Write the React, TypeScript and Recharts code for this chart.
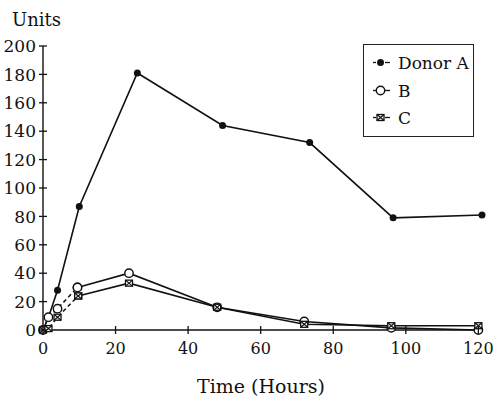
import React from 'react';
import { LineChart, Line, XAxis, YAxis, Legend } from 'recharts';

const seriesNames = ['Donor A', 'B', 'C'];
const timesA = [0, 1.5, 4, 10, 26, 49.5, 73.5, 96.5, 121];
const valuesA = [0, 9, 28, 87, 181, 144, 132, 79, 81];
const timesB = [0, 1.5, 4, 9.5, 23.7, 48, 72, 96, 120];
const valuesB = [0, 9, 15, 30, 40, 16, 6, 1.5, 0];
const timesC = [0, 1.5, 4, 9.7, 23.7, 48, 72, 96, 120];
const valuesC = [0, 1, 9, 24, 33, 16, 4, 3, 3];
const xTicks = [0, 20, 40, 60, 80, 100, 120];
const yTicks = [0, 20, 40, 60, 80, 100, 120, 140, 160, 180, 200];

const FONT = '"DejaVu Serif", "Liberation Serif", serif';
const INK = '#111';

const toPts = (xs: number[], ys: number[]) => xs.map((x, i) => ({ x, y: ys[i] }));
const dataA = toPts(timesA, valuesA);
const dataB = toPts(timesB, valuesB);
const dataC = toPts(timesC, valuesC);
const EARLY = 4; // points up to ~10 h drawn dashed for B and C

const MarkA = ({ cx, cy }: any) => <circle cx={cx} cy={cy} r={3.5} fill={INK} />;
const MarkB = ({ cx, cy }: any) => (
  <circle cx={cx} cy={cy} r={4.2} fill="#fff" stroke={INK} strokeWidth={1.4} />
);
const MarkC = ({ cx, cy }: any) => (
  <g>
    <rect x={cx - 3.5} y={cy - 3} width={7} height={6} fill="#fff" stroke={INK} strokeWidth={1.3} />
    <path d={`M${cx - 3.5},${cy - 3}L${cx + 3.5},${cy + 3}M${cx + 3.5},${cy - 3}L${cx - 3.5},${cy + 3}`} stroke={INK} strokeWidth={1.2} />
  </g>
);

const dotA = (p: any) => <MarkA key={`a${p.index}`} cx={p.cx} cy={p.cy} />;
const dotB = (p: any) => <MarkB key={`b${p.index}`} cx={p.cx} cy={p.cy} />;
const dotC = (p: any) => <MarkC key={`c${p.index}`} cx={p.cx} cy={p.cy} />;

const YTick = (props: any) => {
  const { x, y, payload } = props;
  const ax = x + 7;
  return (
    <g>
      <line x1={ax - 4} x2={ax + 4} y1={y} y2={y} stroke={INK} strokeWidth={1.3} />
      <text x={x} y={y} dy="0.36em" textAnchor="end" fontFamily={FONT} fontSize={17} fill={INK}>
        {payload.value}
      </text>
    </g>
  );
};

const XTick = (props: any) => {
  const { x, y, payload } = props;
  const ay = y - 12;
  return (
    <g>
      <line x1={x} x2={x} y1={ay - 4} y2={ay + 4} stroke={INK} strokeWidth={1.3} />
      <text x={x} y={y} dy="0.76em" textAnchor="middle" fontFamily={FONT} fontSize={16} fill={INK}>
        {payload.value}
      </text>
    </g>
  );
};

const LegendBox = () => {
  const rows = [19, 47, 74];
  const marks = [MarkA, MarkB, MarkC];
  return (
    <div style={{ width: 111, height: 93, border: '1.5px solid #222', boxSizing: 'border-box', background: '#fff' }}>
      <svg width={108} height={90} style={{ display: 'block' }}>
        {seriesNames.map((name, i) => {
          const M = marks[i];
          const y = rows[i] - 1.5;
          return (
            <g key={name}>
              <line x1={9} x2={12} y1={y} y2={y} stroke={INK} strokeWidth={1.3} />
              <line x1={21} x2={26} y1={y} y2={y} stroke={INK} strokeWidth={1.3} />
              <M cx={16.5} cy={y} />
              <text x={34} y={y} dy="0.36em" fontFamily={FONT} fontSize={17} fill={INK}>
                {name}
              </text>
            </g>
          );
        })}
      </svg>
    </div>
  );
};

export default function App() {
  return (
    <div style={{ position: 'absolute', left: 0, top: 0, width: 493, height: 400, background: '#fff' }}>
      <LineChart width={493} height={400} margin={{ top: 46, right: 11, left: 0, bottom: 0 }}>
        <XAxis
          type="number"
          dataKey="x"
          domain={[0, 121]}
          ticks={xTicks}
          allowDecimals={false}
          height={70}
          tickSize={0}
          tickMargin={12}
          tickLine={false}
          axisLine={{ stroke: INK, strokeWidth: 1.4 }}
          tick={<XTick />}
        />
        <YAxis
          type="number"
          domain={[0, 200]}
          ticks={yTicks}
          width={43}
          tickSize={0}
          tickMargin={7}
          tickLine={false}
          axisLine={{ stroke: INK, strokeWidth: 1.4 }}
          tick={<YTick />}
        />
        <Legend
          verticalAlign="middle"
          align="center"
          layout="horizontal"
          wrapperStyle={{ position: 'absolute', left: 363, top: 44, width: 111, height: 93 }}
          content={() => <LegendBox />}
        />
        <Line data={dataA} dataKey="y" name={seriesNames[0]} stroke={INK} strokeWidth={1.6} dot={dotA} isAnimationActive={false} />
        <Line data={dataB.slice(0, EARLY)} dataKey="y" name="B-early" stroke={INK} strokeWidth={1.5} strokeDasharray="4 3" dot={dotB} isAnimationActive={false} legendType="none" />
        <Line data={dataB.slice(EARLY - 1)} dataKey="y" name={seriesNames[1]} stroke={INK} strokeWidth={1.6} dot={dotB} isAnimationActive={false} />
        <Line data={dataC.slice(0, EARLY)} dataKey="y" name="C-early" stroke={INK} strokeWidth={1.5} strokeDasharray="4 3" dot={dotC} isAnimationActive={false} legendType="none" />
        <Line data={dataC.slice(EARLY - 1)} dataKey="y" name={seriesNames[2]} stroke={INK} strokeWidth={1.6} dot={dotC} isAnimationActive={false} />
      </LineChart>
      <svg width={493} height={400} style={{ position: 'absolute', left: 0, top: 0, pointerEvents: 'none' }}>
        <text x={12} y={26} fontFamily={FONT} fontSize={18} fill={INK}>Units</text>
        <text x={261} y={393} textAnchor="middle" fontFamily={FONT} fontSize={19} fill={INK}>Time (Hours)</text>
      </svg>
    </div>
  );
}
